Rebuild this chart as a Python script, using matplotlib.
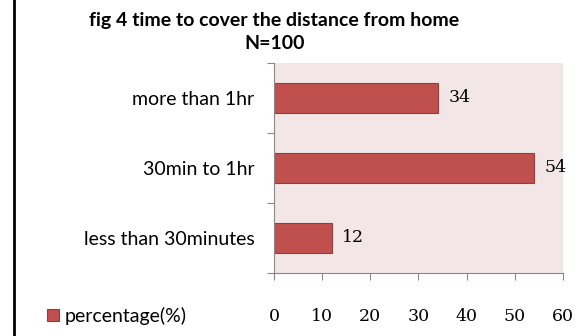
import matplotlib
matplotlib.use("Agg")
import matplotlib.pyplot as plt
from matplotlib.lines import Line2D
from matplotlib.patches import Patch

categories = ["less than 30minutes", "30min to 1hr", "more than 1hr"]
percentages = [12, 54, 34]
x_ticks = [0, 10, 20, 30, 40, 50, 60]

bar_color = "#C0504D"
edge_color = "#9B3B39"
bg_color = "#F2E6E6"
label_font = "Lato"
num_font = "DejaVu Serif"

fig = plt.figure(figsize=(5.84, 3.36), dpi=100, facecolor="white")
ax = fig.add_axes([0.469, 0.1875, 0.495, 0.625])
ax.set_facecolor(bg_color)

y = range(len(categories))
ax.barh(y, percentages, height=0.42, color=bar_color, edgecolor=edge_color, linewidth=0.8)
for yi, v in zip(y, percentages):
    ax.text(v + 2.2, yi, str(v), va="center", ha="left", fontsize=12.5, family=num_font)

ax.set_xlim(0, 60)
ax.set_ylim(-0.5, 2.5)
ax.set_xticks(x_ticks)
ax.set_xticklabels([str(t) for t in x_ticks], family=num_font, fontsize=12.5)
ax.set_yticks([-0.5, 0.5, 1.5, 2.5])
ax.set_yticklabels([])
ax.set_yticks(list(y), minor=True)
ax.set_yticklabels(categories, minor=True, family=label_font, fontsize=14)
ax.tick_params(axis="y", which="minor", length=0, pad=14)
ax.tick_params(axis="y", which="major", length=5, color="#888888", direction="out")
ax.tick_params(axis="x", length=5, color="#888888", direction="out", pad=20)
for side in ("top", "right"):
    ax.spines[side].set_visible(False)
for side in ("left", "bottom"):
    ax.spines[side].set_color("#888888")
    ax.spines[side].set_linewidth(0.8)

fig.text(0.47, 0.94, "fig 4 time to cover the distance from home", ha="center", va="center",
         fontsize=14, fontweight="bold", family=label_font)
fig.text(0.47, 0.87, "N=100", ha="center", va="center",
         fontsize=14, fontweight="bold", family=label_font)

handle = Patch(facecolor=bar_color, edgecolor=edge_color, linewidth=0.8)
fig.legend([handle], ["percentage(%)"], loc="center left", bbox_to_anchor=(0.068, 0.06),
           frameon=False, prop={"family": label_font, "size": 14},
           handlelength=0.6, handleheight=0.6, handletextpad=0.3, borderaxespad=0)

# left border rule
fig.add_artist(Line2D([0.024, 0.024], [0, 1], color="black", linewidth=2))

fig.savefig("out.png", dpi=100, facecolor="white")
